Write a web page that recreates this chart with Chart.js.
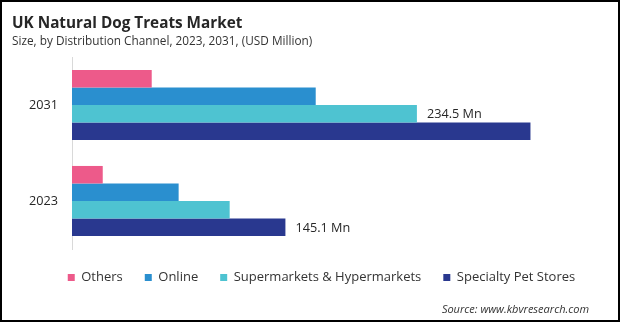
<!DOCTYPE html>
<html>
<head>
<meta charset="utf-8">
<script src="https://cdn.jsdelivr.net/npm/chart.js@4.4.1/dist/chart.umd.min.js"></script>
<style>
  body { margin: 0; background: #fff; }
  #wrap { position: relative; width: 620px; height: 322px; overflow: hidden; font-family: "Open Sans", sans-serif; }
  #frame { position: absolute; left: 0; top: 0; width: 620px; height: 322px; box-sizing: border-box; border: 2px solid #000; pointer-events: none; }
  .txt { position: absolute; white-space: nowrap; line-height: 1; }
  #title { left: 12px; top: 15px; font-size: 15.3px; font-weight: bold; color: #262626; }
  #subtitle { left: 12px; top: 35px; font-size: 11.8px; color: #333; }
  #source { right: 31px; top: 303px; font-size: 11px; font-style: italic; color: #333; }
  canvas { position: absolute; left: 0; top: 0; }
</style>
</head>
<body>
<div id="wrap">
  <canvas id="chart" width="620" height="322"></canvas>
  <div class="txt" id="title">UK Natural Dog Treats Market</div>
  <div class="txt" id="subtitle">Size, by Distribution Channel, 2023, 2031, (USD Million)</div>
  <div class="txt" id="source">Source: www.kbvresearch.com</div>
  <div id="frame"></div>
</div>
<script>
var years = ["2031", "2023"],
    others = [54.2, 20.9],
    online = [165.7, 72.5],
    supermarkets = [234.5, 107.2],
    specialty = [311.7, 145.1];

// which bars carry a value label: [dataset, year index]
var labelledBars = [[2, 0], [3, 1]];

var valueLabels = {
    id: "valueLabels",
    afterDatasetsDraw: function (chart) {
        var ctx = chart.ctx;
        ctx.save();
        ctx.font = "12.7px 'Open Sans'";
        ctx.fillStyle = "#262626";
        ctx.textAlign = "left";
        ctx.textBaseline = "middle";
        labelledBars.forEach(function (p) {
            var bar = chart.getDatasetMeta(p[0]).data[p[1]],
                value = chart.data.datasets[p[0]].data[p[1]];
            ctx.fillText(value.toFixed(1) + " Mn", bar.x + 10, bar.y + 1);
        });
        ctx.restore();
    }
};

function drawChart() {
    var datasets = [
        { label: "Others", data: others, backgroundColor: "#ED5A8A" },
        { label: "Online", data: online, backgroundColor: "#2A8FCF" },
        { label: "Supermarkets & Hypermarkets", data: supermarkets, backgroundColor: "#4EC3D1" },
        { label: "Specialty Pet Stores", data: specialty, backgroundColor: "#29388F" }
    ];

    new Chart(document.getElementById("chart"), {
        type: "bar",
        data: { labels: years, datasets: datasets },
        options: {
            indexAxis: "y",
            responsive: false,
            animation: false,
            datasets: { bar: { barPercentage: 1, categoryPercentage: 0.73 } },
            layout: { padding: { top: 57, left: 29, right: 6, bottom: 28 } },
            scales: {
                x: { display: false, min: 0, max: 368.5 },
                y: {
                    grid: { display: false, drawTicks: false },
                    border: { display: true, color: "#D9D9D9", width: 1 },
                    ticks: { color: "#262626", padding: 14, font: { family: "Open Sans", size: 12.7 } },
                    afterFit: function (scale) { scale.width = 43; }
                }
            },
            plugins: {
                legend: {
                    position: "bottom",
                    labels: {
                        boxWidth: 7,
                        boxHeight: 7,
                        padding: 22,
                        color: "#333",
                        font: { family: "Open Sans", size: 13 }
                    }
                },
                tooltip: { enabled: false }
            }
        },
        plugins: [valueLabels]
    });
}

window.onload = function () {
    drawChart();
};
</script>
</body>
</html>
